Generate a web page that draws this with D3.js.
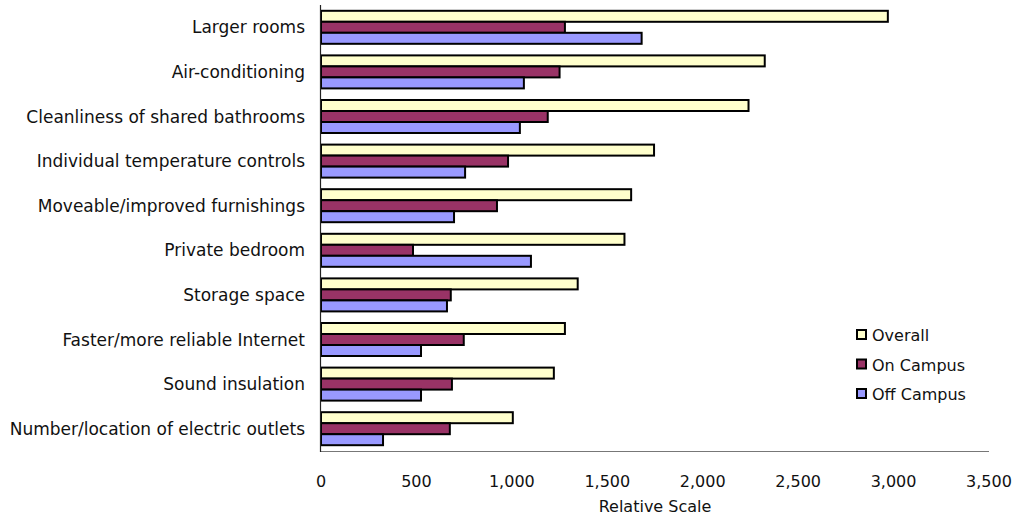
<!DOCTYPE html>
<html>
<head>
<meta charset="utf-8">
<script src="https://cdn.jsdelivr.net/npm/d3@7"></script>
<style>
  html, body { margin: 0; padding: 0; background: #fff; }
  svg { display: block; }
  text { font-family: "DejaVu Sans", sans-serif; fill: #111; }
</style>
</head>
<body>
<svg id="chart" width="1015" height="517"></svg>
<script>
// Housing amenity priorities, relative scale
const categories = [
  "Larger rooms",
  "Air-conditioning",
  "Cleanliness of shared bathrooms",
  "Individual temperature controls",
  "Moveable/improved furnishings",
  "Private bedroom",
  "Storage space",
  "Faster/more reliable Internet",
  "Sound insulation",
  "Number/location of electric outlets"
];
const seriesNames = ["Overall", "On Campus", "Off Campus"];
const overall   = [2970, 2325, 2240, 1745, 1625, 1590, 1345, 1278, 1220, 1005];
const onCampus  = [1278, 1250, 1188,  980,  922,  482,  680,  748,  686,  675];
const offCampus = [1680, 1063, 1042,  755,  697, 1100,  660,  524,  524,  325];
const xTicks = [0, 500, 1000, 1500, 2000, 2500, 3000, 3500];
const xTitle = "Relative Scale";

const colors = ["#FFFFCC", "#993366", "#9999FF"];
const seriesValues = [overall, onCampus, offCampus];

const svg = d3.select("#chart");
const plotLeft = 321, plotRight = 989, plotTop = 5, plotBottom = 451;

const x = d3.scaleLinear().domain([0, 3500]).range([plotLeft, plotRight]);
const y = d3.scaleBand().domain(categories).range([plotTop, plotBottom])
  .paddingInner(0.26).paddingOuter(0.13);
const ySub = d3.scaleBand().domain(seriesNames).range([0, y.bandwidth()]);

// bars
const groups = svg.append("g").selectAll("g")
  .data(categories)
  .join("g")
  .attr("transform", d => `translate(0,${y(d)})`);

groups.selectAll("rect")
  .data((cat, i) => seriesNames.map((s, j) => ({ s, j, v: seriesValues[j][i] })))
  .join("rect")
  .attr("x", x(0))
  .attr("y", d => ySub(d.s))
  .attr("width", d => x(d.v) - x(0))
  .attr("height", ySub.bandwidth())
  .attr("fill", d => colors[d.j])
  .attr("stroke", "#000")
  .attr("stroke-width", 2);

// x axis line and labels
svg.append("line")
  .attr("x1", x(0)).attr("x2", x(3500))
  .attr("y1", plotBottom + 0.5).attr("y2", plotBottom + 0.5)
  .attr("stroke", "#777").attr("stroke-width", 1.2);

const fmt = d3.format(",");
svg.append("g").selectAll("text")
  .data(xTicks)
  .join("text")
  .attr("x", d => x(d))
  .attr("y", 487)
  .attr("text-anchor", "middle")
  .style("font-size", "16px")
  .text(d => fmt(d));

svg.append("text")
  .attr("x", (x(0) + x(3500)) / 2)
  .attr("y", 512)
  .attr("text-anchor", "middle")
  .style("font-size", "16px")
  .text(xTitle);

// y axis line and category labels
svg.append("line")
  .attr("x1", plotLeft - 0.5).attr("x2", plotLeft - 0.5)
  .attr("y1", plotTop).attr("y2", plotBottom + 1)
  .attr("stroke", "#222").attr("stroke-width", 1.2);

svg.append("g").selectAll("text")
  .data(categories)
  .join("text")
  .attr("x", 305)
  .attr("y", d => y(d) + y.bandwidth() / 2)
  .attr("dy", "0.36em")
  .attr("text-anchor", "end")
  .style("font-size", "17px")
  .text(d => d);

// legend
const legend = svg.append("g").selectAll("g")
  .data(seriesNames)
  .join("g")
  .attr("transform", (d, i) => `translate(857,${330 + i * 29.5})`);

legend.append("rect")
  .attr("width", 9).attr("height", 9)
  .attr("fill", (d, i) => colors[i])
  .attr("stroke", "#000").attr("stroke-width", 2);

legend.append("text")
  .attr("x", 15)
  .attr("y", 5)
  .attr("dy", "0.38em")
  .style("font-size", "16px")
  .text(d => d);
</script>
</body>
</html>
